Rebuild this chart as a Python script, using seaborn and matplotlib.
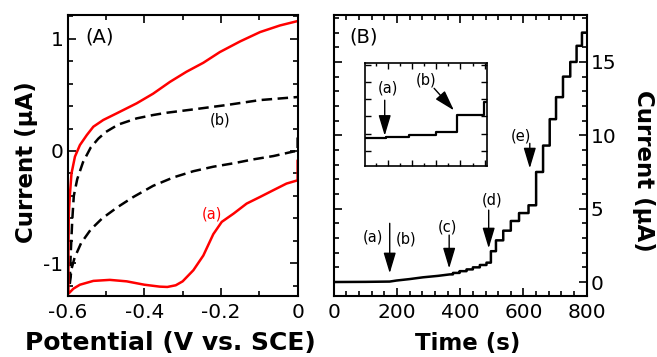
import numpy as np
import seaborn as sns
import matplotlib
matplotlib.use('Agg')
import matplotlib.pyplot as plt
from matplotlib.ticker import MultipleLocator, FuncFormatter

# ---- panel A: cyclic voltammograms (V vs. SCE, uA) ----
red_v = [0.0, 0.0, -0.029, -0.064, -0.098, -0.133, -0.167, -0.198, -0.22, -0.246,
         -0.272, -0.3, -0.318, -0.34, -0.36, -0.4, -0.446, -0.49, -0.533, -0.568,
         -0.585, -0.598, -0.598, -0.597, -0.594, -0.59, -0.581, -0.568, -0.55,
         -0.533, -0.507, -0.472, -0.42, -0.377, -0.333, -0.29, -0.246, -0.203,
         -0.15, -0.098, -0.046, 0.0]
red_i = [-0.083, -0.261, -0.29, -0.35, -0.409, -0.468, -0.557, -0.631, -0.74, -0.93,
         -1.061, -1.16, -1.195, -1.21, -1.207, -1.19, -1.16, -1.147, -1.156, -1.19,
         -1.225, -1.27, -0.88, -0.554, -0.38, -0.2, -0.05, 0.053, 0.142,
         0.216, 0.276, 0.335, 0.424, 0.51, 0.615, 0.705, 0.785, 0.88,
         0.975, 1.058, 1.117, 1.156]

dash_v = [0.0, 0.0, -0.011, -0.063, -0.116, -0.168, -0.22, -0.272, -0.324, -0.377,
          -0.429, -0.47, -0.51, -0.54, -0.565, -0.582, -0.59, -0.595,
          -0.592, -0.588, -0.584, -0.575, -0.56, -0.54, -0.52, -0.5, -0.468,
          -0.42, -0.377, -0.342, -0.272, -0.185, -0.098, -0.011, 0.0]
dash_i = [0.12, 0.0, -0.005, -0.045, -0.075, -0.11, -0.14, -0.18, -0.235, -0.31,
          -0.41, -0.5, -0.6, -0.7, -0.82, -0.95, -1.05, -1.2,
          -0.909, -0.613, -0.4, -0.25, -0.1, 0.03, 0.11, 0.17, 0.235,
          0.29, 0.32, 0.34, 0.37, 0.409, 0.453, 0.477, 0.48]

# ---- panel B: amperometric response ----
base_t = [0, 100, 177, 198, 240, 282, 330, 367]
base_i = [0.0, 0.01, 0.03, 0.1, 0.2, 0.32, 0.42, 0.52]
step_t = [377, 398, 420, 440, 462, 483, 497, 513, 536, 560, 586, 616, 640, 662,
          683, 703, 725, 748, 768, 785]
step_i = [0.62, 0.74, 0.86, 1.0, 1.16, 1.32, 2.1, 2.84, 3.5, 4.16, 4.7, 5.23, 7.5,
          9.3, 11.1, 12.6, 14.0, 15.0, 16.1, 17.0]
t_end = 800

# inset (zoom on the first additions)
ins_t0, ins_i0 = 141, 1.73
ins_step_t = [158.6, 177.7, 199.6, 217.3, 239.1]
ins_step_i = [1.82, 1.94, 2.08, 3.06, 3.84]
ins_t_end = 242


def staircase(t0, i0, times, levels, tend):
    xs, ys = [t0], [i0]
    prev = i0
    for t, lv in zip(times, levels):
        xs += [t, t]
        ys += [prev, lv]
        prev = lv
    xs.append(tend)
    ys.append(prev)
    return xs, ys


def fmt(v, pos):
    v = round(v, 3)
    if v == 0:
        return '0'
    return f'{v:g}'


sns.set_style('ticks')
plt.rcParams['font.family'] = ['DejaVu Sans']
plt.rcParams['axes.unicode_minus'] = False
for key in ['text.color', 'axes.labelcolor', 'xtick.color', 'ytick.color',
            'axes.edgecolor']:
    plt.rcParams[key] = 'black'

fig = plt.figure(figsize=(6.57, 3.57), dpi=100)
axA = fig.add_axes([0.103, 0.171, 0.350, 0.787])
axB = fig.add_axes([0.508, 0.171, 0.385, 0.787])
axI = fig.add_axes([0.5556, 0.535, 0.1857, 0.2885])

# panel A
sns.lineplot(x=dash_v, y=dash_i, ax=axA, sort=False, estimator=None,
             color='black', lw=1.8)
axA.lines[-1].set_dashes([4.2, 2.2])
sns.lineplot(x=red_v, y=red_i, ax=axA, sort=False, estimator=None,
             color='#ff0000', lw=1.8)
axA.set_xlim(-0.6, 0)
axA.set_ylim(-1.29, 1.21)
axA.xaxis.set_major_locator(MultipleLocator(0.2))
axA.xaxis.set_minor_locator(MultipleLocator(0.1))
axA.yaxis.set_major_locator(MultipleLocator(1))
axA.yaxis.set_minor_locator(MultipleLocator(0.2))
axA.xaxis.set_major_formatter(FuncFormatter(fmt))
axA.yaxis.set_major_formatter(FuncFormatter(fmt))
axA.tick_params(which='both', direction='in', top=True, right=True, width=1.2)
axA.tick_params(which='major', length=6, labelsize=14.5, pad=3)
axA.tick_params(axis='x', which='major', pad=5)
axA.tick_params(which='minor', length=3.5)
axA.set_xlabel('Potential (V vs. SCE)', fontsize=18, fontweight='bold', va='center')
axA.set_ylabel('Current (µA)', fontsize=16.5, fontweight='bold', va='center')
axA.xaxis.set_label_coords(0.445, -0.169)
axA.yaxis.set_label_coords(-0.18, 0.477)
axA.text(-0.517, 1.01, '(A)', fontsize=14, ha='center', va='center')
axA.text(-0.203, 0.276, '(b)', fontsize=10.5, ha='center', va='center')
axA.text(-0.2235, -0.563, '(a)', fontsize=10.5, ha='center', va='center',
         color='#ff0000')

# panel B
bx, by = staircase(base_t[-1], base_i[-1], step_t, step_i, t_end)
bx = base_t[:-1] + bx
by = base_i[:-1] + by
sns.lineplot(x=bx, y=by, ax=axB, sort=False, estimator=None, color='black', lw=1.8)
axB.set_xlim(0, 800)
axB.set_ylim(-0.95, 18.2)
axB.xaxis.set_major_locator(MultipleLocator(200))
axB.xaxis.set_minor_locator(MultipleLocator(40))
axB.yaxis.set_major_locator(MultipleLocator(5))
axB.yaxis.set_minor_locator(MultipleLocator(1))
axB.xaxis.set_major_formatter(FuncFormatter(fmt))
axB.tick_params(which='both', direction='in', top=True, left=True, right=True,
                labelleft=False, labelright=True, width=1.2)
axB.tick_params(which='major', length=6, labelsize=14.5, pad=3)
axB.tick_params(axis='x', which='major', pad=5)
axB.tick_params(which='minor', length=3.5)
axB.yaxis.set_label_position('right')
axB.set_xlabel('Time (s)', fontsize=16.5, fontweight='bold', va='center')
axB.set_ylabel('Current (µA)', fontsize=16.5, fontweight='bold', rotation=-90,
               va='center', ha='center')
axB.xaxis.set_label_coords(0.528, -0.169)
axB.yaxis.set_label_coords(1.225, 0.445)
axB.text(93, 16.7, '(B)', fontsize=14, ha='center', va='center')

arrow = dict(arrowstyle='-|>,head_length=0.9,head_width=0.27', color='black',
             lw=1.0, mutation_scale=14, shrinkA=0, shrinkB=0)
axB.annotate('', xy=(177, 0.6), xytext=(177, 4.0), arrowprops=arrow)
axB.text(124, 3.07, '(a)', fontsize=10.5, ha='center', va='center')
axB.text(228, 2.93, '(b)', fontsize=10.5, ha='center', va='center')
axB.annotate('', xy=(365, 0.93), xytext=(365, 3.2), arrowprops=arrow)
axB.text(358, 3.77, '(c)', fontsize=10.5, ha='center', va='center')
axB.annotate('', xy=(490, 2.3), xytext=(490, 4.9), arrowprops=arrow)
axB.text(502, 5.59, '(d)', fontsize=10.5, ha='center', va='center')
axB.annotate('', xy=(620, 7.75), xytext=(620, 9.45), arrowprops=arrow)
axB.text(591, 9.95, '(e)', fontsize=10.5, ha='center', va='center')

# inset
ix, iy = staircase(ins_t0, ins_i0, ins_step_t, ins_step_i, ins_t_end)
sns.lineplot(x=ix, y=iy, ax=axI, sort=False, estimator=None, color='black', lw=1.6)
axI.set_xlim(141, 242)
axI.set_ylim(0.12, 6.1)
axI.xaxis.set_major_locator(MultipleLocator(20))
axI.xaxis.set_minor_locator(MultipleLocator(10))
axI.yaxis.set_major_locator(MultipleLocator(1))
axI.tick_params(which='both', direction='in', top=True, right=True, width=1.0,
                labelbottom=False, labelleft=False)
axI.tick_params(which='major', length=4)
axI.tick_params(which='minor', length=2.5)
axI.set_xlabel('')
axI.set_ylabel('')
axI.annotate('', xy=(157.3, 1.88), xytext=(157.3, 3.94), arrowprops=arrow)
axI.text(160, 4.63, '(a)', fontsize=10.5, ha='center', va='center')
axI.annotate('', xy=(214.6, 3.35), xytext=(198.2, 4.63), arrowprops=arrow)
axI.text(191.4, 5.12, '(b)', fontsize=10.5, ha='center', va='center')

for ax in (axA, axB):
    for s in ax.spines.values():
        s.set_linewidth(1.5)
for s in axI.spines.values():
    s.set_linewidth(1.2)

fig.savefig('out.png', dpi=100)
